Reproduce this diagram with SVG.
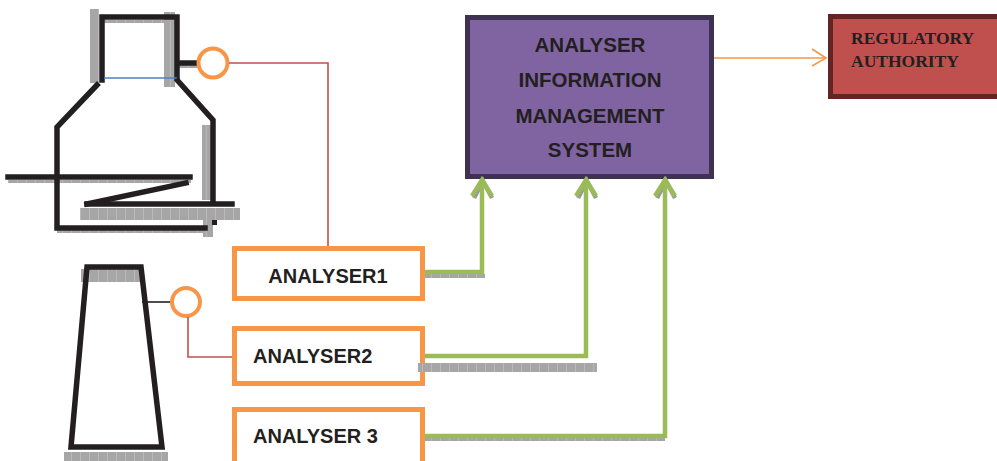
<svg xmlns="http://www.w3.org/2000/svg" width="997" height="461" viewBox="0 0 997 461">
  <style>
    .ink { stroke: #231f20; stroke-width: 5.5; fill: none; stroke-linecap: square; }
    .shade { fill: url(#tile); }
    .probe { fill: none; stroke: #f79646; stroke-width: 4; }
    .wire { fill: none; stroke: #c0504d; stroke-width: 1.6; }
    .feed { fill: none; stroke: #9bbb59; stroke-width: 4.5; }
    .feed-shadow { fill: none; stroke: #9a9a9a; stroke-width: 4.5; }
    .abox { fill: #ffffff; stroke: #f79646; stroke-width: 5; }
    .alabel { font-family: "Liberation Sans", Arial, sans-serif; font-weight: bold; font-size: 20px; fill: #231f20; }
    .mlabel { font-family: "Liberation Sans", Arial, sans-serif; font-weight: bold; font-size: 20.5px; fill: #231f20; text-anchor: middle; }
    .rlabel { font-family: "Liberation Serif", "Times New Roman", serif; font-weight: bold; font-size: 17.5px; fill: #231f20; }
  </style>
  <defs>
    <pattern id="tile" width="9" height="9" patternUnits="userSpaceOnUse">
      <rect width="9" height="9" fill="#a6a6a6"/>
      <rect x="8" width="1" height="9" fill="#b9b9b9"/>
    </pattern>
  </defs>

  <rect width="997" height="461" fill="#ffffff"/>

  <!-- reactor vessel with sampling probe -->
  <g id="reactor">
    <rect class="shade" x="90" y="9" width="9" height="74"/>
    <rect class="shade" x="164" y="12" width="11" height="75"/>
    <rect class="shade" x="102" y="20" width="62" height="3"/>
    <rect class="shade" x="202" y="125" width="9" height="75"/>
    <rect class="shade" x="8" y="180" width="183" height="3"/>
    <rect class="shade" x="80" y="208" width="160" height="12"/>
    <rect class="shade" x="57" y="230" width="146" height="3"/>
    <rect class="shade" x="203" y="220" width="10" height="17"/>
    <rect class="shade" x="177" y="65" width="21" height="3"/>
    <path class="ink" d="M102 80 V17 H177 V78"/>
    <line x1="104" y1="78" x2="177" y2="78" stroke="#4f81bd" stroke-width="1.6"/>
    <line class="ink" x1="179" y1="63" x2="196" y2="63"/>
    <path class="ink" d="M97 85 L57 127 V228 H205"/>
    <path class="ink" d="M178 81 L213 120 V203"/>
    <line class="ink" x1="8" y1="177" x2="190" y2="177"/>
    <line class="ink" x1="87" y1="204" x2="186" y2="183"/>
    <line class="ink" x1="87" y1="204" x2="232" y2="204"/>
    <rect x="212" y="220" width="5" height="5" fill="#231f20"/>
    <circle class="probe" cx="213" cy="63" r="14.5"/>
  </g>

  <!-- column vessel with sampling probe -->
  <g id="column">
    <rect class="shade" x="81" y="269" width="59" height="13"/>
    <rect class="shade" x="64" y="452" width="104" height="9"/>
    <path class="ink" d="M87 267 H141 L162 447 H71 Z" stroke-linejoin="miter"/>
    <line x1="142" y1="302" x2="172" y2="302" stroke="#231f20" stroke-width="1.6"/>
    <circle class="probe" cx="186" cy="302" r="14"/>
  </g>

  <!-- analyser units -->
  <g id="analyser1">
    <rect class="abox" x="234.5" y="248.5" width="188" height="50"/>
    <text class="alabel" x="328" y="283" text-anchor="middle">ANALYSER1</text>
  </g>
  <g id="analyser2">
    <rect class="abox" x="234.5" y="328.5" width="188" height="55"/>
    <text class="alabel" x="253" y="363">ANALYSER2</text>
  </g>
  <g id="analyser3">
    <rect class="abox" x="234.5" y="409.5" width="188" height="56"/>
    <text class="alabel" x="253" y="443">ANALYSER 3</text>
  </g>

  <!-- central information system -->
  <g id="aims">
    <rect x="467.5" y="17.5" width="244" height="159" fill="#8064a2" stroke="#3f3151" stroke-width="5"/>
    <text class="mlabel" x="590" y="52">ANALYSER</text>
    <text class="mlabel" x="590" y="87">INFORMATION</text>
    <text class="mlabel" x="590" y="123">MANAGEMENT</text>
    <text class="mlabel" x="590" y="157">SYSTEM</text>
  </g>

  <!-- regulatory authority -->
  <g id="regulator">
    <rect x="830.5" y="16.5" width="170" height="80" fill="#c0504d" stroke="#632523" stroke-width="5"/>
    <text class="rlabel" x="851" y="44">REGULATORY</text>
    <text class="rlabel" x="851" y="67">AUTHORITY</text>
  </g>

  <g id="connectors">
    <!-- probe signal wires -->
    <path class="wire" d="M229 63 H328 V246"/>
    <path class="wire" d="M188 317 V357 H232"/>

    <!-- shadows under data feeds -->
    <rect class="shade" x="425" y="274" width="60" height="4"/>
    <rect class="shade" x="418" y="363" width="179" height="9"/>
    <rect class="shade" x="425" y="438" width="240" height="3"/>
    <path class="feed-shadow" d="M474 198 L483 181 L492 198"/>
    <path class="feed-shadow" d="M578 198 L587 181 L596 198"/>
    <path class="feed-shadow" d="M657 198 L666 181 L675 198"/>

    <!-- data feeds into the information system -->
    <path class="feed" d="M425 272 H482 V181"/>
    <path class="feed" d="M472 196 L482 180 L492 196"/>
    <path class="feed" d="M425 356 H586 V181"/>
    <path class="feed" d="M576 196 L586 180 L596 196"/>
    <path class="feed" d="M425 436 H665 V181"/>
    <path class="feed" d="M655 196 L665 180 L675 196"/>

    <!-- report to regulator -->
    <line x1="714" y1="58" x2="826" y2="58" stroke="#f79646" stroke-width="1.6"/>
    <path d="M812 49 L826 58 L812 66" fill="none" stroke="#f79646" stroke-width="1.6"/>
  </g>
</svg>
